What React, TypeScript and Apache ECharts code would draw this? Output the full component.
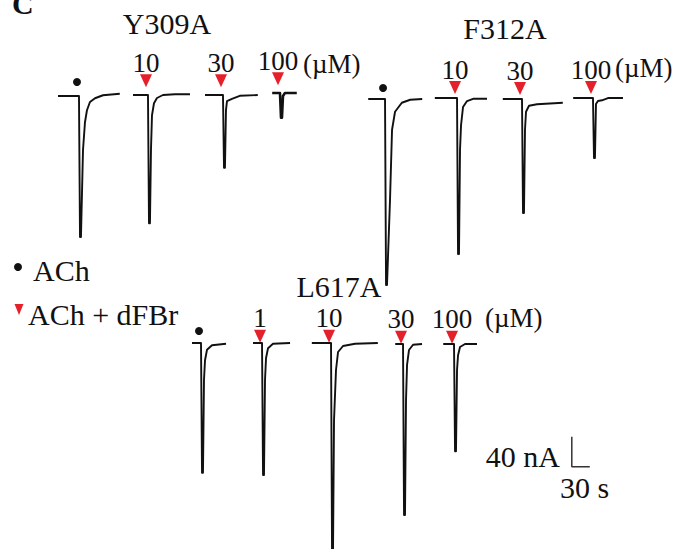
import React, { useEffect, useRef } from "react";
import * as echarts from "echarts";

// Scale (from the scale bar): 40 nA = 30 px, 30 s = 18 px
const PX_PER_S = 0.6;
const PX_PER_NA = 0.75;

const FONT = '"Liberation Serif", "Times New Roman", serif';
const RED = "#e4202a";
const INK = "#111111";

// ---- Y309A ----
const y309Conc = ["", "10", "30", "100"];
const y309Onset = [48.3, 163.3, 288.3, 383.3]; // s, panel time
const y309Base = [0, 1.3, 1.3, 4]; // nA baseline offset
const y309Traces: number[][][] = [
  [[-35, 0], [0, 0], [1.7, -188], [3.3, -188], [6.7, -72], [10, -35], [13.3, -19], [18.3, -8], [26.7, -3], [40, 1], [68, 3]],
  [[-25, 0], [0, 0], [1.7, -171], [3.3, -171], [5, -73], [6.7, -27], [10, -11], [15, -4], [25, 0], [45, 1], [70, 1]],
  [[-30, 0], [0, 0], [1.7, -97], [3.3, -97], [5, -20], [6.7, -8], [15, -5], [28, -1], [58, 0]],
  [[-13, 0], [0, 0], [1.7, -33], [3.3, -33], [5, -4], [8.3, 0], [28, 0]],
];

// ---- F312A ----
const f312Conc = ["", "10", "30", "100"];
const f312Onset = [41.7, 161.7, 270, 388.3];
const f312Base = [0, 1.3, 0, 1.3];
const f312Traces: number[][][] = [
  [[-28, 0], [0, 0], [1.7, -248], [3.3, -248], [8.3, -135], [11.7, -41], [16.7, -17], [28, -5], [42, -1], [62, 0]],
  [[-37, 0], [0, 0], [1.7, -208], [3.3, -208], [5, -69], [6.7, -36], [10, -12], [16.7, -4], [26.7, -1], [50, -1]],
  [[-32, 0], [0, 0], [1.7, -152], [3.3, -152], [5, -41], [6.7, -17], [11.7, -9], [25, -7], [68, -5]],
  [[-33, 0], [0, 0], [1.7, -80], [3.3, -80], [5, -8], [8.3, -4], [15, -3], [25, 0], [50, 0]],
];

// ---- L617A ----
const l617Conc = ["", "1", "10", "30", "100"];
const l617Onset = [35, 136.7, 251.7, 371.7, 456.7];
const l617Base = [0, 0, 0, -1.3, -1.3];
const l617Traces: number[][][] = [
  [[-15, 0], [0, 0], [1.7, -173], [3.3, -173], [5, -49], [6.7, -23], [10, -9], [18.3, -3], [41.7, -1]],
  [[-15, 0], [0, 0], [1.7, -176], [3.3, -176], [5, -49], [6.7, -20], [10, -7], [18.3, -1], [46.7, 0]],
  [[-32, 0], [0, 0], [1.7, -280], [3.3, -280], [5, -103], [8.3, -36], [11.7, -12], [20, -4], [40, -1], [78, 0]],
  [[-13, 0], [0, 0], [1.7, -228], [3.3, -228], [5, -75], [6.7, -28], [10, -8], [16.7, -1], [31.7, 0]],
  [[-18, 0], [0, 0], [1.7, -143], [3.3, -143], [5, -35], [6.7, -15], [10, -4], [18.3, 0], [38.3, 0]],
];

// Scale bar (in L617A panel units): 40 nA and 30 s
const scaleBarNA = 40;
const scaleBarS = 30;
const scaleBarCorner = [653, -165];

type Panel = {
  name: string;
  conc: string[];
  onset: number[];
  base: number[];
  traces: number[][][];
  left: number;
  baselinePx: number;
  width: number;
  bottomPx: number;
  triY: number; // nA above baseline
  dotY: number;
  title: [number, number];
  unit: [number, number];
};

const panelList: Panel[] = [
  { name: "Y309A", conc: y309Conc, onset: y309Onset, base: y309Base, traces: y309Traces, left: 50, baselinePx: 96, width: 320, bottomPx: 270, triY: 19, dotY: 18.7, title: [167, 23], unit: [303, 64] },
  { name: "F312A", conc: f312Conc, onset: f312Onset, base: f312Base, traces: f312Traces, left: 360, baselinePx: 99, width: 310, bottomPx: 300, triY: 14, dotY: 14.7, title: [505, 28], unit: [615, 68] },
  { name: "L617A", conc: l617Conc, onset: l617Onset, base: l617Base, traces: l617Traces, left: 180, baselinePx: 343, width: 440, bottomPx: 549, triY: 9, dotY: 16, title: [339, 286], unit: [485, 318] },
];

const MARK_DX = -3.3; // s, marker offset from onset
const LABEL_ABOVE = 24; // nA above triangle

export default function App() {
  const ref = useRef<HTMLDivElement>(null);
  useEffect(() => {
    document.body.style.margin = "0";
    if (!ref.current) return;
    const chart = echarts.init(ref.current, null, { renderer: "svg" });

    const grid: any[] = [];
    const xAxis: any[] = [];
    const yAxis: any[] = [];
    const series: any[] = [];
    const graphic: any[] = [];

    panelList.forEach((p, i) => {
      const topPx = p.baselinePx - 50;
      grid.push({ left: p.left, top: topPx, width: p.width, height: p.bottomPx - topPx });
      xAxis.push({ type: "value", gridIndex: i, min: 0, max: p.width / PX_PER_S, show: false });
      yAxis.push({
        type: "value",
        gridIndex: i,
        min: -(p.bottomPx - p.baselinePx) / PX_PER_NA,
        max: 50 / PX_PER_NA,
        show: false,
      });
      p.traces.forEach((tr, k) => {
        const tiny = Math.min(...tr.map((d) => d[1])) > -40;
        series.push({
          type: "line",
          xAxisIndex: i,
          yAxisIndex: i,
          data: tr.map(([dt, v]) => [p.onset[k] + dt, p.base[k] + v]),
          symbol: "none",
          silent: true,
          clip: true,
          lineStyle: { color: INK, width: tiny ? 2.6 : 1.9, join: "round" },
        });
      });
      const dots: number[][] = [];
      const tris: number[][] = [];
      const labels: any[] = [];
      p.conc.forEach((c, k) => {
        const x = p.onset[k] + MARK_DX;
        if (c === "") {
          dots.push([x, p.base[k] + p.dotY]);
        } else {
          tris.push([x, p.base[k] + p.triY]);
          labels.push({ value: [x, p.base[k] + p.triY + LABEL_ABOVE], label: { formatter: c } });
        }
      });
      series.push({
        type: "scatter", xAxisIndex: i, yAxisIndex: i, data: dots, symbol: "circle", symbolSize: 8,
        itemStyle: { color: INK, opacity: 1 }, silent: true,
      });
      series.push({
        type: "scatter", xAxisIndex: i, yAxisIndex: i, data: tris, symbol: "triangle", symbolRotate: 180,
        symbolSize: [12, 13], itemStyle: { color: RED, opacity: 1 }, silent: true,
      });
      series.push({
        type: "scatter", xAxisIndex: i, yAxisIndex: i, data: labels, symbol: "circle", symbolSize: 1,
        itemStyle: { color: "rgba(0,0,0,0)", opacity: 1 }, silent: true,
        label: { show: true, position: "inside", color: INK, opacity: 1, fontFamily: FONT, fontSize: 27 },
      });
      graphic.push({
        type: "text", x: p.title[0], y: p.title[1],
        style: { text: p.name, font: `30px ${FONT}`, fill: INK, align: "center", verticalAlign: "middle" },
      });
      graphic.push({
        type: "text", x: p.unit[0], y: p.unit[1],
        style: { text: "(µM)", font: `27px ${FONT}`, fill: INK, align: "left", verticalAlign: "middle" },
      });
    });

    // scale bar in the L617A panel
    series.push({
      type: "line", xAxisIndex: 2, yAxisIndex: 2, symbol: "none", silent: true,
      data: [
        [scaleBarCorner[0], scaleBarCorner[1] + scaleBarNA],
        [scaleBarCorner[0], scaleBarCorner[1]],
        [scaleBarCorner[0] + scaleBarS, scaleBarCorner[1]],
      ],
      lineStyle: { color: "#333", width: 1.5 },
    });

    graphic.push(
      { type: "text", x: 560, y: 456, style: { text: "40 nA", font: `30px ${FONT}`, fill: INK, align: "right", verticalAlign: "middle" } },
      { type: "text", x: 560, y: 487, style: { text: "30 s", font: `30px ${FONT}`, fill: INK, align: "left", verticalAlign: "middle" } },
      { type: "text", x: 12, y: 3, style: { text: "C", font: `bold 30px ${FONT}`, fill: INK, align: "left", verticalAlign: "middle" } },
      { type: "circle", shape: { cx: 18, cy: 267, r: 4 }, style: { fill: INK } },
      { type: "text", x: 33, y: 270, style: { text: "ACh", font: `30px ${FONT}`, fill: INK, align: "left", verticalAlign: "middle" } },
      { type: "polygon", shape: { points: [[14.5, 304], [23.5, 304], [19, 315]] }, style: { fill: RED } },
      { type: "text", x: 28, y: 314, style: { text: "ACh + dFBr", font: `30px ${FONT}`, fill: INK, align: "left", verticalAlign: "middle" } }
    );

    chart.setOption({
      animation: false,
      backgroundColor: "#ffffff",
      grid,
      xAxis,
      yAxis,
      series,
      graphic,
    });
    return () => chart.dispose();
  }, []);
  return <div ref={ref} style={{ width: 676, height: 549 }} />;
}
